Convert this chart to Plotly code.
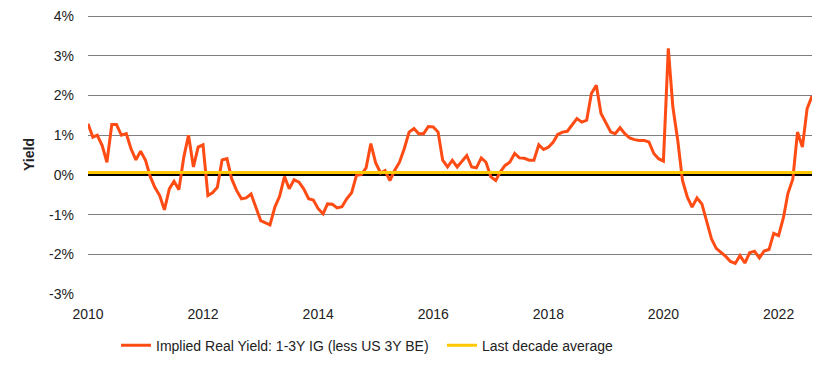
import pandas as pd
import plotly.graph_objects as go

# Monthly implied real yield (%), Jan 2010 onward
real_yield = [
    1.29, 0.95, 1.00, 0.74, 0.32, 1.27, 1.27, 1.00, 1.04, 0.66, 0.38, 0.60,
    0.37, -0.05, -0.31, -0.52, -0.88, -0.35, -0.16, -0.37, 0.45, 1.00, 0.20, 0.70,
    0.76, -0.52, -0.45, -0.31, 0.38, 0.41, -0.10, -0.39, -0.60, -0.58, -0.48, -0.81,
    -1.15, -1.21, -1.26, -0.81, -0.54, -0.04, -0.35, -0.12, -0.18, -0.35, -0.60, -0.63,
    -0.85, -0.98, -0.73, -0.74, -0.83, -0.80, -0.60, -0.45, -0.01, 0.01, 0.18, 0.79,
    0.30, 0.05, 0.11, -0.14, 0.11, 0.32, 0.66, 1.08, 1.17, 1.04, 1.04, 1.22,
    1.21, 1.08, 0.37, 0.20, 0.37, 0.20, 0.35, 0.49, 0.20, 0.18, 0.43, 0.32,
    -0.05, -0.14, 0.07, 0.24, 0.32, 0.54, 0.43, 0.42, 0.37, 0.37, 0.76, 0.64,
    0.70, 0.83, 1.02, 1.08, 1.10, 1.25, 1.42, 1.33, 1.38, 2.05, 2.26, 1.55,
    1.33, 1.08, 1.04, 1.19, 1.04, 0.93, 0.89, 0.87, 0.87, 0.83, 0.54, 0.41,
    0.35, 3.19, 1.71, 0.87, -0.14, -0.56, -0.81, -0.58, -0.73, -1.15, -1.61, -1.85,
    -1.95, -2.06, -2.18, -2.23, -2.03, -2.22, -1.96, -1.92, -2.09, -1.92, -1.88, -1.47,
    -1.53, -1.07, -0.47, -0.11, 1.08, 0.70, 1.67, 1.99,
]
dates = pd.date_range("2010-01-01", periods=len(real_yield), freq="MS")
decade_avg = 0.06
avg_series = [decade_avg] * len(dates)

y_ticks = [-3, -2, -1, 0, 1, 2, 3, 4]
y_tick_labels = ["-3%", "-2%", "-1%", "0%", "1%", "2%", "3%", "4%"]
x_ticks = ["2010-01-01", "2012-01-01", "2014-01-01", "2016-01-01", "2018-01-01", "2020-01-01", "2022-01-01"]
x_tick_labels = ["2010", "2012", "2014", "2016", "2018", "2020", "2022"]

font_family = "Liberation Sans, Arial, sans-serif"

fig = go.Figure()
fig.add_trace(go.Scatter(
    x=dates, y=real_yield, mode="lines",
    name="Implied Real Yield: 1-3Y IG (less US 3Y BE)",
    line=dict(color="#FF4B14", width=3),
))
fig.add_trace(go.Scatter(
    x=dates, y=avg_series, mode="lines",
    name="Last decade average",
    line=dict(color="#FFC800", width=3),
))

# The page body adds an 8px offset, so the figure is sized to 820x359.
fig.update_layout(
    width=820, height=359,
    margin=dict(l=80, r=16, t=7, b=73, autoexpand=False),
    paper_bgcolor="white", plot_bgcolor="white",
    font=dict(family=font_family, size=14, color="#222222"),
    showlegend=True,
    legend=dict(
        orientation="h", x=0.0387, xanchor="left", y=-0.128, yanchor="top",
        font=dict(size=14), itemwidth=30, tracegroupgap=0,
        entrywidth=281, entrywidthmode="pixels",
    ),
    xaxis=dict(
        range=[dates[0], dates[-1]],
        tickvals=x_ticks, ticktext=x_tick_labels,
        showgrid=False, zeroline=False, showline=False,
        ticks="", tickfont=dict(size=14), automargin=False,
        ticklabelstandoff=10, ticklabeloverflow="allow",
    ),
    yaxis=dict(
        range=[-3, 4.03],
        tickvals=y_ticks, ticktext=y_tick_labels,
        showgrid=True, gridcolor="#7F7F7F", gridwidth=1,
        zeroline=True, zerolinecolor="#000000", zerolinewidth=2.5,
        ticks="", tickfont=dict(size=14), automargin=False,
        ticklabelstandoff=13, ticklabeloverflow="allow",
        title=dict(text="<b>Yield</b>", font=dict(size=14), standoff=11),
    ),
)

fig.write_html("out.html")
